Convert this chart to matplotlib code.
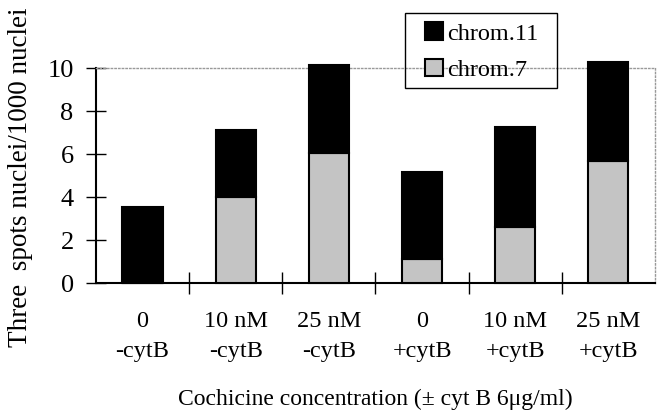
import matplotlib.pyplot as plt
import numpy as np
from matplotlib.patches import Rectangle

plt.rcParams["font.family"] = ["Liberation Serif", "DejaVu Serif"]

# 数据：每组的 chrom.7（底部）与 chrom.11（顶部）
groups = ["0\n-cytB", "10 nM\n-cytB", "25 nM\n-cytB",
          "0\n+cytB", "10 nM\n+cytB", "25 nM\n+cytB"]
chrom7 = [0.0, 4.0, 6.05, 1.1, 2.6, 5.7]
chrom11 = [3.55, 3.1, 4.1, 4.05, 4.65, 4.6]

fig = plt.figure(figsize=(6.57, 4.2), dpi=100)
ax = fig.add_axes([0.146, 0.326, 0.851, 0.512])

x = np.arange(len(groups))
w = 0.43
ax.bar(x, chrom7, w, color="#c4c4c4", edgecolor="black", linewidth=1.5,
       label="chrom.7", zorder=3, clip_on=False)
ax.bar(x, chrom11, w, bottom=chrom7, color="black", edgecolor="black",
       linewidth=1.5, label="chrom.11", zorder=3, clip_on=False)

ax.set_xlim(-0.5, len(groups) - 0.5)
ax.set_ylim(0, 10)
ax.set_yticks(np.arange(0, 11, 2))

# 类别分界处的刻度，标签放在中心
ax.set_xticks(np.arange(0.5, len(groups) - 0.5, 1.0))
ax.set_xticklabels([])
ax.set_xticks(x, minor=True)
ax.set_xticklabels(groups, minor=True, fontsize=17.5, linespacing=1.6)
ax.tick_params(axis="x", which="minor", length=0, pad=20)
ax.tick_params(axis="x", which="major", direction="inout", length=16, width=1)
ax.tick_params(axis="y", direction="inout", length=14, width=1, labelsize=19, pad=9)

for s in ["top", "right"]:
    ax.spines[s].set_linestyle(":")
    ax.spines[s].set_color("#999999")
    ax.spines[s].set_linewidth(1)
ax.spines["left"].set_linewidth(1.5)
ax.spines["bottom"].set_linewidth(1.5)

ax.set_ylabel("Three  spots nuclei/1000 nuclei", fontsize=19.5)
ax.yaxis.set_label_coords(-0.112, 0.49)
ax.set_xlabel("Cochicine concentration (\u00b1 cyt B 6\u03bcg/ml)",
              fontsize=17, labelpad=19)

# 图例：外框单独画，以控制左右留白
handles, labels = ax.get_legend_handles_labels()
leg = fig.legend(handles[::-1], labels[::-1], loc="center left",
                 bbox_to_anchor=(0.647, 0.877), fontsize=17.5, frameon=False,
                 handlelength=0.74, handleheight=0.74, handletextpad=0.17,
                 borderpad=0, labelspacing=0.58, borderaxespad=0)
fig.add_artist(Rectangle((0.6164, 0.7905), 0.2314, 0.1786, transform=fig.transFigure,
                         fill=False, edgecolor="black", linewidth=1))

fig.savefig("out.png", dpi=100)
